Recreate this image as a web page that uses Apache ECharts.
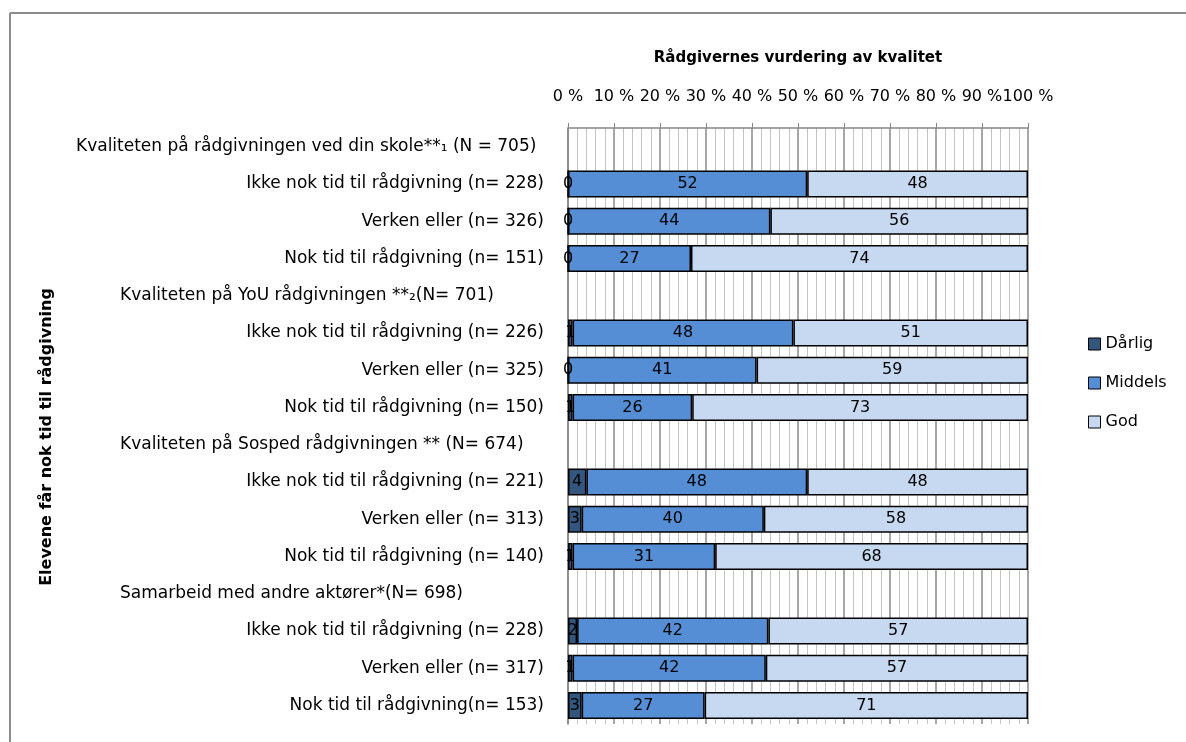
<!DOCTYPE html>
<html>
<head>
<meta charset="utf-8">
<script src="https://cdn.jsdelivr.net/npm/echarts@6/dist/echarts.min.js"></script>
<style>
  html, body { margin: 0; padding: 0; background: #fff; }
  #main { width: 1186px; height: 742px; }
</style>
</head>
<body>
<div id="main"></div>
<script>
// kategorier (overskrifter har ingen data)
const categories = [
  'Kvaliteten på rådgivningen ved din skole**₁ (N = 705)',
  'Ikke nok tid til rådgivning (n= 228)',
  'Verken eller (n= 326)',
  'Nok tid til rådgivning (n= 151)',
  'Kvaliteten på YoU rådgivningen **₂(N= 701)',
  'Ikke nok tid til rådgivning (n= 226)',
  'Verken eller (n= 325)',
  'Nok tid til rådgivning (n= 150)',
  'Kvaliteten på Sosped rådgivningen ** (N= 674)',
  'Ikke nok tid til rådgivning (n= 221)',
  'Verken eller (n= 313)',
  'Nok tid til rådgivning (n= 140)',
  'Samarbeid med andre aktører*(N= 698)',
  'Ikke nok tid til rådgivning (n= 228)',
  'Verken eller (n= 317)',
  'Nok tid til rådgivning(n= 153)'
];
const seriesNames = ['Dårlig', 'Middels', 'God'];
const darlig  = [null, 0, 0, 0, null, 1, 0, 1, null, 4, 3, 1, null, 2, 1, 3];
const middels = [null, 52, 44, 27, null, 48, 41, 26, null, 48, 40, 31, null, 42, 42, 27];
const god     = [null, 48, 56, 74, null, 51, 59, 73, null, 48, 58, 68, null, 57, 57, 71];
const xTicks = ['0 %', '10 %', '20 %', '30 %', '40 %', '50 %', '60 %', '70 %', '80 %', '90 %', '100 %'];

const colors = ['#34557d', '#558ed5', '#c6d9f1'];
const FONT = 'DejaVu Sans';

// 100 % stablet: hver rad normaliseres, etiketten viser tallet som det er
function rowData(values) {
  return values.map(function (v, i) {
    if (v === null) return { value: null, raw: null };
    const sum = darlig[i] + middels[i] + god[i];
    return { value: v / sum * 100, raw: v };
  });
}

const myChart = echarts.init(document.getElementById('main'));

myChart.setOption({
  backgroundColor: '#fff',
  textStyle: { fontFamily: FONT },
  animation: false,
  graphic: [
    { type: 'line', shape: { x1: 10, y1: 13, x2: 1186, y2: 13 }, style: { stroke: '#8c8c8c', lineWidth: 2 } },
    { type: 'line', shape: { x1: 10, y1: 13, x2: 10, y2: 742 }, style: { stroke: '#8c8c8c', lineWidth: 2 } },
    {
      type: 'text', x: 47, y: 437, rotation: Math.PI / 2,
      style: {
        text: 'Elevene får nok tid til rådgivning',
        font: 'bold 16px "DejaVu Sans"', fill: '#000',
        textAlign: 'center', textVerticalAlign: 'middle'
      }
    }
  ],
  legend: {
    orient: 'vertical',
    left: 1083,
    top: 331,
    itemWidth: 12,
    itemHeight: 12,
    itemGap: 23,
    itemStyle: { borderColor: '#000', borderWidth: 1 },
    icon: 'rect',
    data: seriesNames,
    textStyle: { fontSize: 16, color: '#000', fontFamily: FONT }
  },
  grid: {
    left: 568,
    right: 158,
    top: 128,
    bottom: 18,
    containLabel: false
  },
  xAxis: {
    type: 'value',
    position: 'top',
    min: 0,
    max: 100,
    interval: 10,
    name: 'Rådgivernes vurdering av kvalitet',
    nameLocation: 'middle',
    nameGap: 62,
    nameMoveOverlap: false,
    nameTextStyle: { fontSize: 15, fontWeight: 'bold', color: '#000', fontFamily: FONT },
    axisLine: { show: true, lineStyle: { color: '#868686', width: 1.5 } },
    axisTick: { show: true, length: 5, lineStyle: { color: '#868686' } },
    minorTick: { show: false, splitNumber: 5 },
    axisLabel: {
      margin: 23,
      fontSize: 16,
      color: '#000',
      fontFamily: FONT,
      hideOverlap: false,
      formatter: function (v) { return xTicks[Math.round(v / 10)]; }
    },
    splitLine: { show: true, lineStyle: { color: '#8a8a8a', width: 1.5 } },
    minorSplitLine: { show: true, lineStyle: { color: '#c4c4c4', width: 1 } }
  },
  yAxis: {
    type: 'category',
    inverse: true,
    data: categories,
    axisLine: { show: true, lineStyle: { color: '#868686', width: 1.5 } },
    axisTick: { show: false },
    axisLabel: {
      margin: 24,
      fontSize: 17,
      color: '#000',
      fontFamily: FONT,
      formatter: function (value, index) {
        if (darlig[index] === null) {
          return index === 0 ? '{h0|' + value + '}' : '{h|' + value + '}';
        }
        return value;
      },
      rich: {
        h0: { width: 468, align: 'left', fontSize: 17, fontFamily: FONT, color: '#000' },
        h: { width: 424, align: 'left', fontSize: 17, fontFamily: FONT, color: '#000' }
      }
    }
  },
  series: [darlig, middels, god].map(function (vals, k) {
    return {
      name: seriesNames[k],
      type: 'bar',
      stack: 'total',
      barWidth: 27,
      data: rowData(vals),
      itemStyle: { color: colors[k], borderColor: '#000', borderWidth: 1.5 },
      label: {
        show: true,
        position: 'inside',
        fontSize: 16,
        color: '#000',
        fontFamily: FONT,
        overflow: 'none',
        formatter: function (p) { return p.data.raw === null ? '' : String(p.data.raw); }
      }
    };
  })
});
</script>
</body>
</html>
